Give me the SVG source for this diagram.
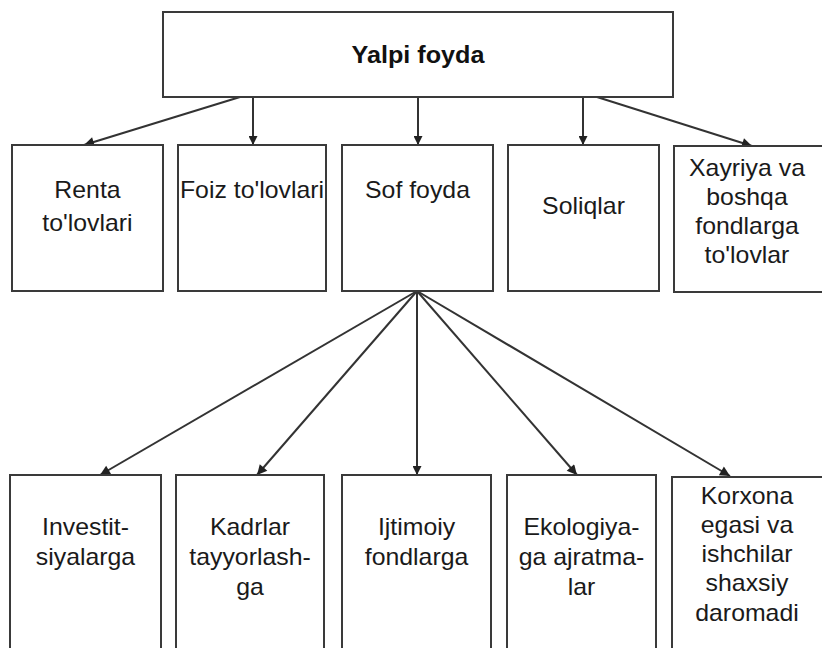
<svg xmlns="http://www.w3.org/2000/svg" width="822" height="648" viewBox="0 0 822 648">
  <defs>
    <marker id="arr" viewBox="0 0 10 10" refX="10" refY="5" markerWidth="12" markerHeight="10" markerUnits="userSpaceOnUse" orient="auto">
      <path d="M0,0 L10,5 L0,10 z" fill="#222"/>
    </marker>
    <marker id="arrs" viewBox="0 0 10 10" refX="10" refY="5" markerWidth="9" markerHeight="9" markerUnits="userSpaceOnUse" orient="auto">
      <path d="M0,0 L10,5 L0,10 z" fill="#222"/>
    </marker>
  </defs>
  <style>
    .box { fill: #ffffff; stroke: #3a3a3a; stroke-width: 2; }
    .t { font-family: "Liberation Sans", Arial, sans-serif; font-size: 23px; fill: #1a1a1a; text-anchor: middle; }
    .tb { font-family: "Liberation Sans", Arial, sans-serif; font-size: 24px; font-weight: bold; fill: #111; text-anchor: middle; }
    .c { stroke: #333; stroke-width: 2; fill: none; }
    .cv { stroke: #333; stroke-width: 2; fill: none; }
  </style>
  <rect x="0" y="0" width="822" height="648" fill="#ffffff"/>

  <g id="connectors">
    <line class="c" x1="240" y1="97" x2="84" y2="145" marker-end="url(#arr)"/>
    <line class="cv" x1="253" y1="97" x2="253" y2="145" marker-end="url(#arrs)"/>
    <line class="cv" x1="418" y1="97" x2="418" y2="145" marker-end="url(#arrs)"/>
    <line class="cv" x1="583" y1="97" x2="583" y2="145" marker-end="url(#arrs)"/>
    <line class="c" x1="597" y1="97" x2="752" y2="146" marker-end="url(#arr)"/>

    <line class="c" x1="417" y1="291" x2="100" y2="475" marker-end="url(#arr)"/>
    <line class="c" x1="417" y1="291" x2="257" y2="475" marker-end="url(#arr)"/>
    <line class="cv" x1="417" y1="291" x2="417" y2="475" marker-end="url(#arrs)"/>
    <line class="c" x1="417" y1="291" x2="577" y2="475" marker-end="url(#arr)"/>
    <line class="c" x1="417" y1="291" x2="730" y2="476" marker-end="url(#arr)"/>
  </g>

  <g id="yalpi">
    <rect class="box" x="163" y="12" width="510" height="85"/>
    <text class="tb" transform="translate(418 0) scale(1.05 1)" x="0" y="63">Yalpi foyda</text>
  </g>

  <g id="renta">
    <rect class="box" x="12" y="145" width="151" height="146"/>
    <text class="t" transform="translate(87.5 0) scale(1.08 1)" x="0" y="198">Renta</text>
    <text class="t" transform="translate(87.5 0) scale(1.08 1)" x="0" y="231">to'lovlari</text>
  </g>

  <g id="foiz">
    <rect class="box" x="178" y="145" width="148" height="146"/>
    <text class="t" transform="translate(252 0) scale(1.08 1)" x="0" y="198">Foiz to'lovlari</text>
  </g>

  <g id="sof">
    <rect class="box" x="342" y="145" width="151" height="146"/>
    <text class="t" transform="translate(417.5 0) scale(1.08 1)" x="0" y="198">Sof foyda</text>
  </g>

  <g id="soliqlar">
    <rect class="box" x="508" y="145" width="151" height="146"/>
    <text class="t" transform="translate(583.5 0) scale(1.08 1)" x="0" y="214">Soliqlar</text>
  </g>

  <g id="xayriya">
    <rect class="box" x="674" y="146" width="160" height="146"/>
    <text class="t" transform="translate(747 0) scale(1.08 1)" x="0" y="176">Xayriya va</text>
    <text class="t" transform="translate(747 0) scale(1.08 1)" x="0" y="205">boshqa</text>
    <text class="t" transform="translate(747 0) scale(1.08 1)" x="0" y="234">fondlarga</text>
    <text class="t" transform="translate(747 0) scale(1.08 1)" x="0" y="263">to'lovlar</text>
  </g>

  <g id="investitsiyalarga">
    <rect class="box" x="10" y="475" width="151" height="190"/>
    <text class="t" transform="translate(85.5 0) scale(1.08 1)" x="0" y="535">Investit-</text>
    <text class="t" transform="translate(85.5 0) scale(1.08 1)" x="0" y="565">siyalarga</text>
  </g>

  <g id="kadrlar">
    <rect class="box" x="176" y="475" width="148" height="190"/>
    <text class="t" transform="translate(250 0) scale(1.08 1)" x="0" y="535">Kadrlar</text>
    <text class="t" transform="translate(250 0) scale(1.08 1)" x="0" y="565">tayyorlash-</text>
    <text class="t" transform="translate(250 0) scale(1.08 1)" x="0" y="595">ga</text>
  </g>

  <g id="ijtimoiy">
    <rect class="box" x="342" y="475" width="149" height="190"/>
    <text class="t" transform="translate(416.5 0) scale(1.08 1)" x="0" y="535">Ijtimoiy</text>
    <text class="t" transform="translate(416.5 0) scale(1.08 1)" x="0" y="565">fondlarga</text>
  </g>

  <g id="ekologiya">
    <rect class="box" x="507" y="475" width="149" height="190"/>
    <text class="t" transform="translate(581.5 0) scale(1.08 1)" x="0" y="535">Ekologiya-</text>
    <text class="t" transform="translate(581.5 0) scale(1.08 1)" x="0" y="565">ga ajratma-</text>
    <text class="t" transform="translate(581.5 0) scale(1.08 1)" x="0" y="595">lar</text>
  </g>

  <g id="korxona">
    <rect class="box" x="672" y="477" width="160" height="190"/>
    <text class="t" transform="translate(747 0) scale(1.08 1)" x="0" y="504">Korxona</text>
    <text class="t" transform="translate(747 0) scale(1.08 1)" x="0" y="533">egasi va</text>
    <text class="t" transform="translate(747 0) scale(1.08 1)" x="0" y="562">ishchilar</text>
    <text class="t" transform="translate(747 0) scale(1.08 1)" x="0" y="591">shaxsiy</text>
    <text class="t" transform="translate(747 0) scale(1.08 1)" x="0" y="621">daromadi</text>
  </g>
</svg>
